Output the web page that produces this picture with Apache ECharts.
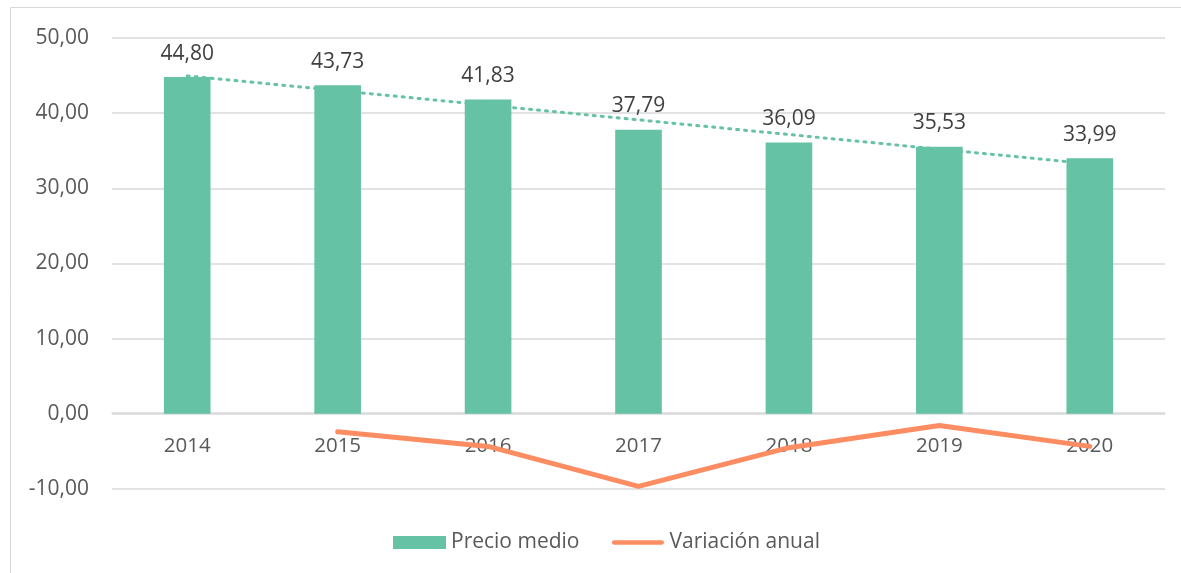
<!DOCTYPE html>
<html><head><meta charset="utf-8">
<script src="https://cdn.jsdelivr.net/npm/echarts@6/dist/echarts.min.js"></script>
<style>html,body{margin:0;padding:0;background:#fff}#c{width:1181px;height:573px}</style>
</head><body><div id="c"></div>
<script>
const categories = ['2014','2015','2016','2017','2018','2019','2020'];
const precioMedio = [44.80, 43.73, 41.83, 37.79, 36.09, 35.53, 33.99];
const variacionAnual = [null, -2.39, -4.34, -9.66, -4.50, -1.55, -4.33];
const tendencia = [44.96, 43.01, 41.06, 39.11, 37.16, 35.21, 33.26];
const yTicks = {min: -10, max: 50, interval: 10};

const fmt = v => v.toFixed(2).replace('.', ',');
const FONT = '"Open Sans", "Noto Sans", sans-serif';
const TXT = '#595959';

const chart = echarts.init(document.getElementById('c'), null, {renderer: 'canvas'});
chart.setOption({
  animation: false,
  textStyle: {fontFamily: FONT},
  graphic: [{type: 'rect', shape: {x: 10.5, y: 7.5, width: 1300, height: 700}, style: {fill: null, stroke: '#d9d9d9', lineWidth: 1}, silent: true}],
  grid: {left: 112, right: 16, top: 38, bottom: 84},
  legend: {
    bottom: 15, left: 388, itemGap: 32, itemWidth: 53, itemHeight: 13,
    textStyle: {color: TXT, fontSize: 21, fontFamily: FONT},
    data: [
      {name: 'Precio medio', icon: 'rect'},
      {name: 'Variación anual', icon: 'path://M0,0 L0,0 M3,4 L53,4 A2.5,2.5 0 0 1 53,9 L3,9 A2.5,2.5 0 0 1 3,4 Z M56,13 L56,13'}
    ]
  },
  xAxis: {
    type: 'category', data: categories,
    axisLine: {show: true, onZero: false, lineStyle: {color: '#d9d9d9', width: 1.5}},
    offset: -76,
    axisTick: {show: false},
    axisLabel: {color: TXT, fontSize: 20.5, margin: 23, fontFamily: FONT}
  },
  yAxis: {
    type: 'value', min: yTicks.min, max: yTicks.max, interval: yTicks.interval,
    axisLine: {show: false}, axisTick: {show: false},
    splitLine: {lineStyle: {color: '#d9d9d9', width: 1.5}},
    axisLabel: {color: TXT, fontSize: 21, margin: 23, formatter: v => fmt(v), fontFamily: FONT}
  },
  series: [
    {
      name: 'Precio medio', type: 'bar', data: precioMedio, barWidth: '31%',
      itemStyle: {color: '#66C2A5'},
      label: {show: true, position: 'top', distance: 13, color: '#404040', fontSize: 21, fontFamily: FONT, formatter: p => fmt(p.value)},
      z: 2
    },
    {
      name: 'Tendencia', type: 'line', data: tendencia, symbol: 'none',
      lineStyle: {color: '#66C2A5', width: 3, type: [2, 6], cap: 'round'},
      z: 3, silent: true
    },
    {
      name: 'Variación anual', type: 'line', data: variacionAnual, symbol: 'none',
      lineStyle: {color: '#FC8D62', width: 5, cap: 'round', join: 'round'},
      itemStyle: {color: '#FC8D62'},
      z: 4
    }
  ]
});
</script></body></html>
